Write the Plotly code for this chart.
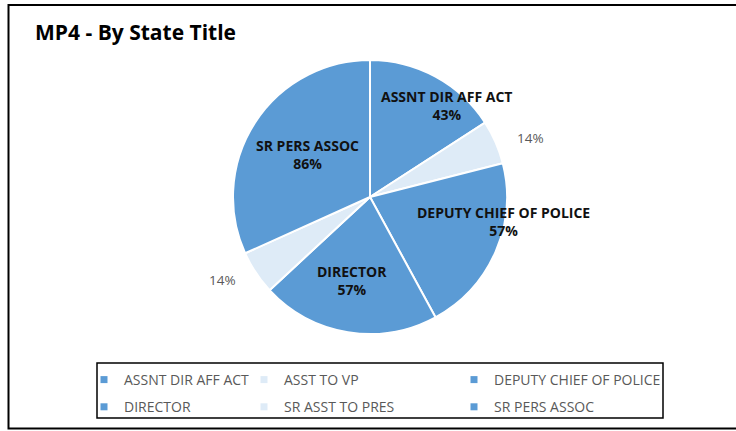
import plotly.graph_objects as go

# --- data ---------------------------------------------------------------
titles = ["ASSNT DIR AFF ACT", "ASST TO VP", "DEPUTY CHIEF OF POLICE",
          "DIRECTOR", "SR ASST TO PRES", "SR PERS ASSOC"]
pct_values = [43, 14, 57, 57, 14, 86]
show_name = [True, False, True, True, False, True]

# --- styling ------------------------------------------------------------
W, H = 736, 431
DARK = "#5B9BD5"
LIGHT = "#DEEBF7"
colors = [DARK, LIGHT, DARK, DARK, LIGHT, DARK]
FONT = "Open Sans"


def px(x):
    return x / W


def py(y):
    return 1 - y / H


# pie geometry in pixels
cx, cy, r = 370, 197, 137

fig = go.Figure()
fig.add_trace(go.Pie(
    labels=titles,
    values=pct_values,
    sort=False,
    direction="clockwise",
    rotation=0,
    marker=dict(colors=colors, line=dict(color="white", width=2)),
    textinfo="none",
    hoverinfo="label+value",
    showlegend=False,
    domain=dict(x=[px(cx - r), px(cx + r)], y=[py(cy + r), py(cy - r)]),
))

# data-label anchor points (pixel centres)
label_pos = [(446, 105), (530, 138), (503, 221), (352, 280), (222, 280), (307, 154)]
for name, v, full, (lx, ly) in zip(titles, pct_values, show_name, label_pos):
    if full:
        txt = f"<b>{name}</b><br><b>{v}%</b>"
        fnt = dict(family=FONT, size=14, color="#111111")
    else:
        txt = f"{v}%"
        fnt = dict(family=FONT, size=13.5, color="#595959")
    fig.add_annotation(x=px(lx), y=py(ly), xref="paper", yref="paper",
                       text=txt, showarrow=False, font=fnt,
                       xanchor="center", yanchor="middle", align="center")

# legend: three columns, each its own legend box
legend_cols = [104, 264, 474]
for i, (name, c) in enumerate(zip(titles, colors)):
    col = i % 3
    lg = "legend" if col == 0 else f"legend{col + 1}"
    fig.add_trace(go.Scatter(
        x=[None], y=[None], mode="markers", name=name,
        marker=dict(symbol="square", size=7, color=c),
        legend=lg, legendgroup=name, showlegend=True, hoverinfo="skip",
    ))

leg_common = dict(
    orientation="v", xanchor="left", yanchor="top",
    bgcolor="rgba(0,0,0,0)", borderwidth=0,
    font=dict(family=FONT, size=14, color="#595959"),
    itemwidth=30, tracegroupgap=6, indentation=-8,
)
layout_legends = {}
for col, lx in enumerate(legend_cols):
    key = "legend" if col == 0 else f"legend{col + 1}"
    layout_legends[key] = dict(x=px(lx - 12), y=py(364), **leg_common)

fig.update_layout(
    width=W, height=H,
    margin=dict(l=0, r=0, t=0, b=0),
    paper_bgcolor="white", plot_bgcolor="white",
    xaxis=dict(visible=False), yaxis=dict(visible=False),
    **layout_legends,
)

# title
fig.add_annotation(x=px(33), y=py(32), xref="paper", yref="paper",
                   text="<b>MP4 - By State Title</b>", showarrow=False,
                   font=dict(family=FONT, size=21, color="#000000"),
                   xanchor="left", yanchor="middle")

# outer chart frame and legend frame
fig.add_shape(type="rect", xref="paper", yref="paper",
              x0=px(8.5), x1=px(745), y0=py(428.5), y1=py(5),
              line=dict(color="#000000", width=2), fillcolor="rgba(0,0,0,0)")
fig.add_shape(type="rect", xref="paper", yref="paper",
              x0=px(97), x1=px(663), y0=py(418), y1=py(363),
              line=dict(color="#000000", width=1.5), fillcolor="rgba(0,0,0,0)")

fig.write_html("out.html")
